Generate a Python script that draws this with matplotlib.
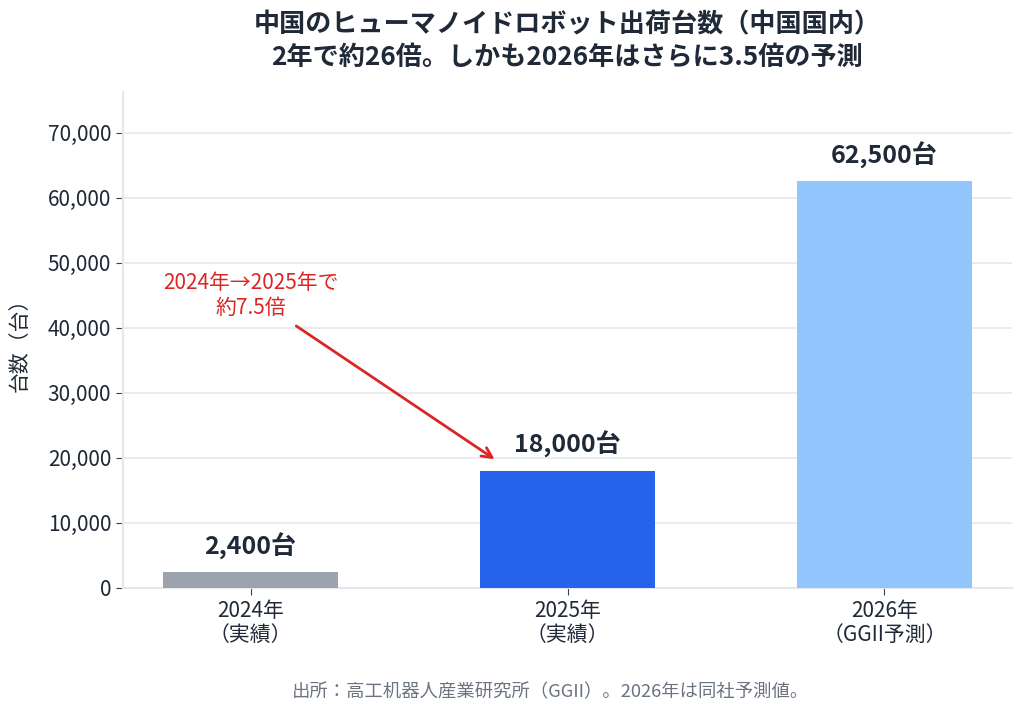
import matplotlib
matplotlib.use("Agg")
import matplotlib.pyplot as plt
from matplotlib.ticker import FuncFormatter

plt.rcParams['font.family'] = ['Noto Sans CJK JP', 'DejaVu Sans']

# data
categories = ['2024年\n（実績）', '2025年\n（実績）', '2026年\n（GGII予測）']
units = [2400, 18000, 62500]
bar_colors = ['#9CA3AF', '#2563EB', '#93C5FD']

title = '中国のヒューマノイドロボット出荷台数（中国国内）\n2年で約26倍。しかも2026年はさらに3.5倍の予測'
source = '出所：高工机器人産業研究所（GGII）。2026年は同社予測値。'

dark = '#1F2937'
grid_c = '#E5E7EB'

fig = plt.figure(figsize=(10.26, 7.16), dpi=100)
ax = fig.add_axes([123 / 1026, 1 - 588 / 716, (1012 - 123) / 1026, (588 - 92) / 716])

x = list(range(len(units)))
ax.bar(x, units, width=0.55, color=bar_colors, zorder=3)

for xi, v in zip(x, units):
    ax.annotate(f'{v:,}台', (xi, v), xytext=(0, 9), textcoords='offset points',
                ha='center', va='bottom', fontsize=18, fontweight='bold', color=dark)

ax.set_ylim(0, 76250)
ax.set_yticks(range(0, 70001, 10000))
ax.yaxis.set_major_formatter(FuncFormatter(lambda v, p: f'{int(v):,}'))
ax.set_xticks(x)
ax.set_xticklabels(categories, linespacing=1.15)
ax.tick_params(axis='both', labelsize=15, colors=dark, length=5, color='#374151')
ax.set_ylabel('台数（台）', fontsize=15, color=dark)
ax.yaxis.set_label_coords(-0.104, 0.5)

ax.grid(axis='y', color=grid_c, linewidth=1.2, zorder=0)
for s in ['top', 'right']:
    ax.spines[s].set_visible(False)
for s in ['left', 'bottom']:
    ax.spines[s].set_color(grid_c)
    ax.spines[s].set_linewidth(1.5)

# growth annotation
ax.annotate('2024年→2025年で\n約7.5倍', xy=(0.77, 19800), xytext=(0, 45000),
            ha='center', va='center', fontsize=15, color='#DC2626', linespacing=1.15,
            arrowprops=dict(arrowstyle='->', color='#DC2626', lw=2,
                            shrinkA=6, shrinkB=0, mutation_scale=18))

fig.text(567 / 1026, 1 - 41 / 716, title, ha='center', va='center',
         fontsize=18.8, fontweight='bold', color=dark, linespacing=1.25)
fig.text(550 / 1026, 1 - 692 / 716, source, ha='center', va='center',
         fontsize=13.2, color='#6B7280')

fig.savefig('out.png', dpi=100)
